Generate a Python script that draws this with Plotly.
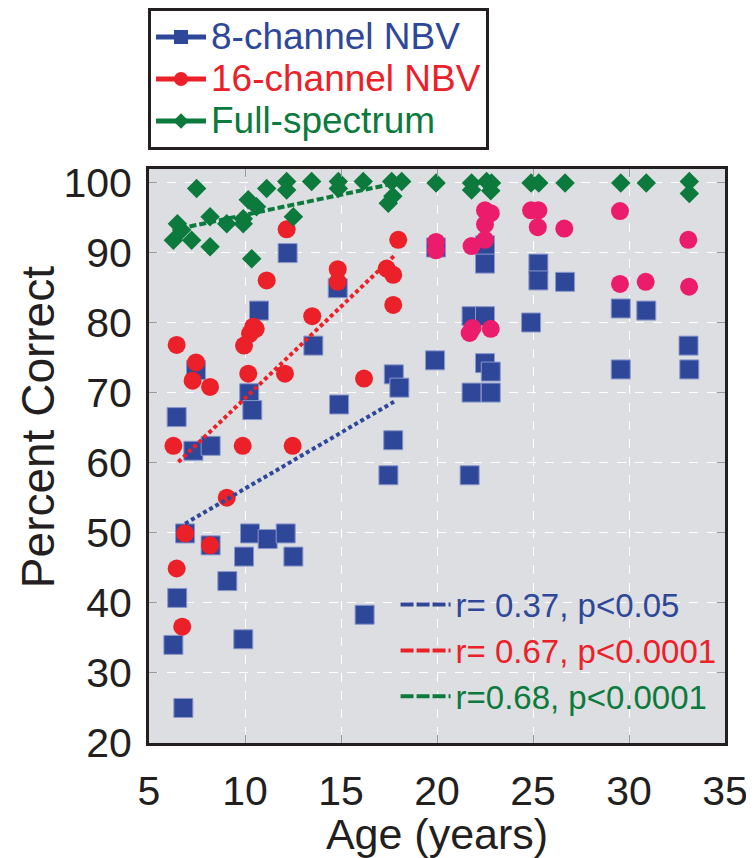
import plotly.graph_objects as go

# ---------------- data ----------------
age8 = [6.27, 6.44, 6.47, 6.79, 6.88, 7.31, 7.45, 8.21, 8.21, 9.08, 9.91, 9.95,
        10.22, 10.38, 10.26, 10.73, 11.18, 12.12, 12.22, 12.52, 13.56, 14.83, 14.9,
        16.23, 17.47, 17.72, 17.75, 18.04, 19.9, 19.95, 21.7, 21.8, 21.8, 22.5,
        22.5, 22.5, 22.5, 22.8, 22.8, 24.9, 25.28, 25.28, 26.67, 29.57, 29.57,
        30.9, 33.1, 33.14]
pc8 = [34.0, 66.5, 40.7, 25.0, 49.9, 61.7, 73.2, 62.4, 48.2, 43.1, 34.8, 46.6,
       69.9, 67.5, 49.9, 81.7, 49.1, 49.9, 89.9, 46.6, 76.7, 84.9, 68.3,
       38.3, 58.2, 63.2, 72.6, 70.7, 74.6, 90.7, 58.2, 80.9, 70.0, 91.0,
       88.4, 80.9, 74.2, 73.0, 70.0, 80.0, 88.4, 86.0, 85.8, 82.0, 73.3,
       81.7, 76.7, 73.3]

age16 = [6.27, 6.44, 6.44, 6.73, 6.88, 7.27, 7.45, 8.18, 8.18, 9.05, 9.88, 9.95,
         10.17, 10.26, 10.43, 10.56, 11.13, 12.08, 12.17, 12.48, 13.5, 14.83, 14.83,
         16.2, 17.38, 17.72, 17.72, 17.98,
         19.95, 19.95, 21.7, 21.85, 21.8, 22.5, 22.8, 22.5, 22.5, 22.8,
         24.9, 25.28, 25.25, 26.63, 29.53, 29.53, 30.87, 33.09, 33.13]
pc16 = [62.4, 76.8, 44.9, 36.6, 49.9, 71.7, 74.3, 70.8, 48.2, 55.0, 62.4, 76.7,
        72.7, 78.4, 79.4, 79.1, 86.0, 72.7, 93.3, 62.4, 80.9, 87.6, 85.8,
        72.0, 87.7, 86.8, 82.5, 91.8,
        91.5, 90.3, 78.5, 79.2, 90.9, 96.0, 95.6, 94.0, 91.8, 79.1,
        96.0, 96.0, 93.6, 93.4, 95.9, 85.5, 85.8, 91.8, 85.1]

ageFS = [6.48, 6.7, 6.27, 7.22, 7.48, 8.18, 8.18, 9.05, 9.91, 10.17, 10.6, 9.91,
         10.35, 11.13, 12.17, 12.17, 12.52, 13.47, 14.86, 14.86, 16.16, 17.64,
         18.16, 17.46, 17.7, 19.95, 21.8, 21.8, 22.58, 22.84, 22.8, 24.9, 25.3,
         26.67, 29.57, 30.9, 33.14, 33.14]
pcFS = [94.1, 93.2, 91.75, 91.75, 99.1, 95.1, 90.8, 94.1, 94.1, 97.5, 96.5, 94.8,
        89.1, 99.1, 100.1, 98.9, 95.1, 100.1, 100.1, 99.1, 100.1, 100.1,
        100.1, 97.0, 98.0, 99.9, 99.9, 98.9, 100.1, 99.9, 98.8, 99.9, 99.9,
        99.9, 99.9, 99.9, 100.1, 98.4]

# regression line end points
fit_age8, fit_pc8 = [6.88, 17.76], [51.3, 68.7]
fit_age16, fit_pc16 = [6.53, 17.8], [60.1, 89.6]
fit_ageFS, fit_pcFS = [6.6, 17.72], [93.4, 99.8]

series_names = ["8-channel NBV", "16-channel NBV", "Full-spectrum"]
stats_labels = ["r= 0.37, p<0.05", "r= 0.67, p<0.0001", "r=0.68, p<0.0001"]
x_ticks = [5, 10, 15, 20, 25, 30, 35]
y_ticks = [20, 30, 40, 50, 60, 70, 80, 90, 100]
x_title = "Age (years)"
y_title = "Percent Correct"

# ---------------- styling ----------------
BLUE = "#2f4799"
RED = "#ec2028"
PINK = "#ec1c6c"
GREEN = "#0b7a3c"
INK = "#231f20"
FONT = "Liberation Sans, Arial, Helvetica, sans-serif"

fig = go.Figure()

# data markers
fig.add_trace(go.Scatter(x=age8, y=pc8, mode="markers", showlegend=False,
                         marker=dict(symbol="square", size=19, color=BLUE,
                                     line=dict(color="#8a97cc", width=1))))
col16 = [RED if a < 19 else PINK for a in age16]
fig.add_trace(go.Scatter(x=age16, y=pc16, mode="markers", showlegend=False,
                         marker=dict(symbol="circle", size=18, color=col16,
                                     line=dict(width=0))))
fig.add_trace(go.Scatter(x=ageFS, y=pcFS, mode="markers", showlegend=False,
                         marker=dict(symbol="diamond", size=15, color=GREEN,
                                     line=dict(width=0))))

# fit lines
fig.add_trace(go.Scatter(x=fit_age8, y=fit_pc8, mode="lines", showlegend=False,
                         line=dict(color=BLUE, width=4, dash="4px,3px")))
fig.add_trace(go.Scatter(x=fit_age16, y=fit_pc16, mode="lines", showlegend=False,
                         line=dict(color=RED, width=4, dash="4px,3px")))
fig.add_trace(go.Scatter(x=fit_ageFS, y=fit_pcFS, mode="lines", showlegend=False,
                         line=dict(color=GREEN, width=4, dash="7px,3px")))

# legend 1 (series)
for nm, col, sym, sz in zip(series_names, [BLUE, RED, GREEN],
                            ["square", "circle", "diamond"], [14, 14, 12]):
    fig.add_trace(go.Scatter(x=[None], y=[None], mode="lines+markers",
                             name=f"<span style='color:{col};font-size:37px'>{nm}</span>",
                             line=dict(color=col, width=5),
                             marker=dict(symbol=sym, size=sz, color=col),
                             legend="legend"))

# legend 2 (statistics)
for lab, col in zip(stats_labels, [BLUE, RED, GREEN]):
    fig.add_trace(go.Scatter(x=[None], y=[None], mode="lines",
                             name=f"<span style='color:{col}'>{lab}</span>",
                             line=dict(color=col, width=4, dash="13px,3px"),
                             legend="legend2"))

# the page adds an 8px body margin, so the figure is drawn 8px in from the top-left
W, H = 746, 850
fig.update_layout(
    width=W, height=H,
    margin=dict(l=141, r=29, t=161, b=115, autoexpand=False),
    paper_bgcolor="white",
    plot_bgcolor="#dddee1",
    font=dict(family=FONT, color=INK),
    legend=dict(xref="container", yref="container",
                x=140 / W, xanchor="left", y=1.0, yanchor="top",
                bgcolor="white", bordercolor=INK, borderwidth=3,
                font=dict(size=30, family=FONT), itemwidth=50,
                tracegroupgap=0),
    legend2=dict(x=0.994, xanchor="right", y=0.29, yanchor="top",
                 bgcolor="rgba(0,0,0,0)", borderwidth=0,
                 font=dict(size=33, family=FONT), itemwidth=50),
    xaxis=dict(range=[5, 35], tickvals=x_ticks, ticktext=[str(v) for v in x_ticks],
               showgrid=True, gridcolor="white", griddash="dash", gridwidth=1,
               zeroline=False, showline=True, linecolor=INK, linewidth=3,
               mirror="ticks", ticks="inside", ticklen=8, tickcolor="#9a9a9a",
               tickfont=dict(size=41, family=FONT, color=INK),
               ticklabelstandoff=10,
               title=dict(text=x_title, font=dict(size=43, family=FONT, color=INK),
                          standoff=0)),
    yaxis=dict(range=[20, 101.9], tickvals=y_ticks, ticktext=[str(v) for v in y_ticks],
               showgrid=True, gridcolor="white", griddash="dash", gridwidth=1,
               zeroline=False, showline=True, linecolor=INK, linewidth=3,
               mirror="ticks", ticks="inside", ticklen=8, tickcolor="#9a9a9a",
               tickfont=dict(size=41, family=FONT, color=INK),
               ticklabelstandoff=6),
    annotations=[dict(text=y_title, textangle=-90, xref="paper", yref="paper",
                      x=-0.193, y=0.55, xanchor="center", yanchor="middle",
                      showarrow=False,
                      font=dict(size=46, family=FONT, color=INK))],
)

fig.write_html("out.html")
